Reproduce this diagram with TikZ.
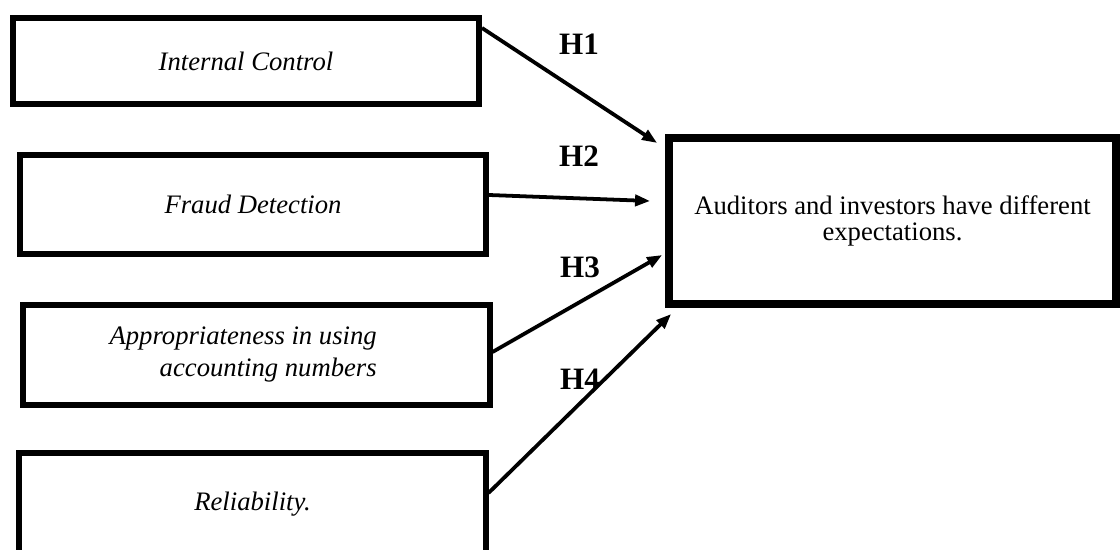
\documentclass[tikz,border=0pt]{standalone}
\usepackage{fontspec}
\setmainfont{Liberation Serif}[
  ItalicFont={Liberation Serif Italic},
  BoldFont={Liberation Serif Bold}]
\usetikzlibrary{calc,arrows.meta}
\tikzset{
  factorbox/.style={draw, line width=2.7pt, minimum width=209.7pt, inner sep=0pt,
    font=\fontsize{12}{14.4}\selectfont\itshape, align=center},
  outcomebox/.style={draw, line width=3.6pt, minimum width=201pt, minimum height=74.7pt,
    inner sep=0pt, font=\fontsize{12}{11.6}\selectfont, align=center},
  hyplabel/.style={font=\fontsize{14}{16}\selectfont\bfseries, inner sep=0pt},
  hyparrow/.style={line width=1.7pt, -{Triangle[length=6.8pt,width=5pt]}}
}

\begin{document}
\begin{tikzpicture}[x=0.45pt, y=-0.45pt]
  \clip (0,0) rectangle (1120,550);

  % factors
  \node[factorbox, minimum height=38.7pt] (ic) at (246,61) {Internal Control};
  \node[factorbox, minimum height=44.6pt] (fd) at (253,204.5) {Fraud Detection};
  \node[factorbox, minimum height=45pt, align=right] (an) at (256.5,355)
    {Appropriateness in using\hspace*{12pt}\\accounting numbers\hspace*{12pt}};
  \node[factorbox, minimum height=45.9pt] (rl) at (252.5,504) {Reliability.};

  % outcome
  \node[outcomebox] (out) at (892.5,221)
    {Auditors and investors have different\\expectations.};

  % hypotheses
  \node[hyplabel] (h1) at (579,44) {H1};
  \node[hyplabel] (h2) at (579,156) {H2};
  \node[hyplabel] (h3) at (580,267) {H3};
  \node[hyplabel] (h4) at (580,379) {H4};

  \draw[hyparrow] ($(ic.north east)+(0,13)$) -- ($(out.north west)+(-8,9)$);
  \draw[hyparrow] ($(fd.east)+(0,-9.5)$) -- ($(out.west)+(-15,-20)$);
  \draw[hyparrow] ($(an.east)+(0,-3)$) -- ($(out.west)+(-3,34)$);
  \draw[hyparrow] ($(rl.east)+(0,-11)$) -- ($(out.south west)+(6,6)$);
\end{tikzpicture}
\end{document}
